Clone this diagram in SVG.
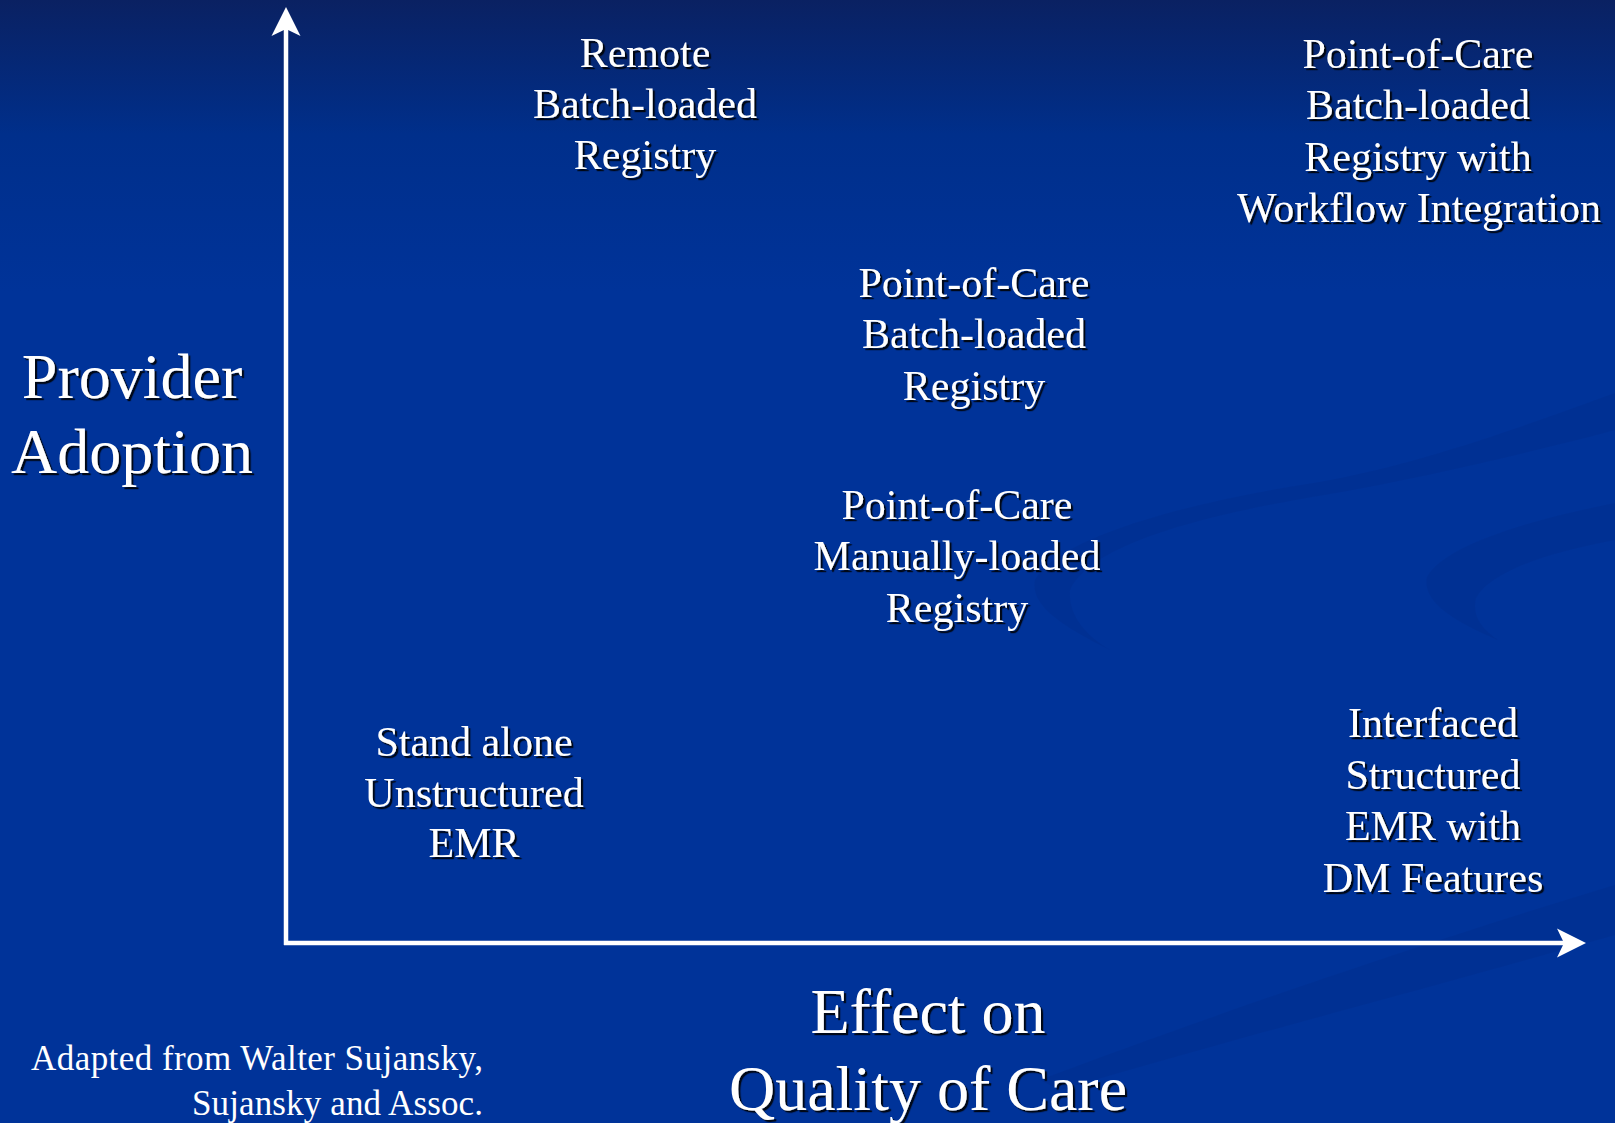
<svg xmlns="http://www.w3.org/2000/svg" width="1615" height="1123" viewBox="0 0 1615 1123">
  <defs>
    <linearGradient id="bg" x1="0" y1="0" x2="0" y2="1">
      <stop offset="0" stop-color="#0a2162"/>
      <stop offset="0.12" stop-color="#002f8b"/>
      <stop offset="0.26" stop-color="#003399"/>
      <stop offset="1" stop-color="#003399"/>
    </linearGradient>
    <filter id="shadow" x="-5%" y="-20%" width="115%" height="150%">
      <feDropShadow dx="2.2" dy="2.2" stdDeviation="0.4" flood-color="#000000" flood-opacity="0.85"/>
    </filter>
    <marker id="arrow" markerUnits="userSpaceOnUse" viewBox="-10 -15 31 30" refX="0" refY="0" markerWidth="31" markerHeight="30" orient="auto">
      <path d="M20,0 L-9,-14.5 L-2,0 L-9,14.5 Z" fill="#ffffff"/>
    </marker>
  </defs>
  <style>
    .lbl { font-family: "Liberation Serif", "Times New Roman", serif; font-size: 42px; fill: #ffffff; text-anchor: middle; filter: url(#shadow); }
    .big { font-family: "Liberation Serif", "Times New Roman", serif; font-size: 64px; fill: #ffffff; text-anchor: middle; filter: url(#shadow); }
    .note { font-family: "Liberation Serif", "Times New Roman", serif; font-size: 35px; fill: #ffffff; text-anchor: end; }
    .axis { stroke: #ffffff; stroke-width: 4.5; fill: none; marker-end: url(#arrow); }
    .swoosh { fill: #00287f; opacity: 0.22; }
  </style>

  <rect x="0" y="0" width="1615" height="1123" fill="url(#bg)"/>

  <g id="background-swooshes">
    <path class="swoosh" d="M1110,650 C1060,625 1030,605 1035,580 C1060,535 1200,500 1320,482 C1430,462 1540,420 1615,393 L1615,430 C1520,455 1420,478 1330,494 C1200,515 1090,545 1070,590 C1068,615 1085,635 1110,650 Z"/>
    <path class="swoosh" d="M1498,640 C1450,620 1422,600 1427,577 C1445,545 1530,520 1615,503 L1615,540 C1545,553 1490,572 1476,598 C1472,615 1480,628 1498,640 Z"/>
    <path class="swoosh" d="M1040,1080 C1200,1020 1400,950 1615,885 L1615,935 C1420,990 1230,1040 1060,1090 Z"/>
  </g>

  <g id="connectors">
    <path id="y-axis" class="axis" d="M286,945 L286,27"/>
    <path id="x-axis" class="axis" d="M284,943 L1566,943"/>
  </g>

  <g id="node-remote-batch">
    <text class="lbl" x="645" y="67">Remote</text>
    <text class="lbl" x="645" y="118">Batch-loaded</text>
    <text class="lbl" x="645" y="169">Registry</text>
  </g>

  <g id="node-poc-batch-workflow">
    <text class="lbl" x="1418" y="68">Point-of-Care</text>
    <text class="lbl" x="1418" y="119">Batch-loaded</text>
    <text class="lbl" x="1418" y="171">Registry with</text>
    <text class="lbl" x="1419" y="222">Workflow Integration</text>
  </g>

  <g id="node-poc-batch">
    <text class="lbl" x="974" y="297">Point-of-Care</text>
    <text class="lbl" x="974" y="348">Batch-loaded</text>
    <text class="lbl" x="974" y="400">Registry</text>
  </g>

  <g id="node-poc-manual">
    <text class="lbl" x="957" y="519">Point-of-Care</text>
    <text class="lbl" x="957" y="570">Manually-loaded</text>
    <text class="lbl" x="957" y="622">Registry</text>
  </g>

  <g id="node-standalone">
    <text class="lbl" x="474" y="756">Stand alone</text>
    <text class="lbl" x="474" y="807">Unstructured</text>
    <text class="lbl" x="474" y="857">EMR</text>
  </g>

  <g id="node-interfaced">
    <text class="lbl" x="1433" y="737">Interfaced</text>
    <text class="lbl" x="1433" y="789">Structured</text>
    <text class="lbl" x="1433" y="840">EMR with</text>
    <text class="lbl" x="1433" y="892">DM Features</text>
  </g>

  <g id="y-axis-label">
    <text class="big" x="132" y="398">Provider</text>
    <text class="big" x="132" y="473">Adoption</text>
  </g>

  <g id="x-axis-label">
    <text class="big" x="928" y="1033">Effect on</text>
    <text class="big" x="928" y="1110">Quality of Care</text>
  </g>

  <g id="credit">
    <text class="note" x="483" y="1070" textLength="452" lengthAdjust="spacing">Adapted from Walter Sujansky,</text>
    <text class="note" x="483" y="1115" textLength="291" lengthAdjust="spacing">Sujansky and Assoc.</text>
  </g>
</svg>
